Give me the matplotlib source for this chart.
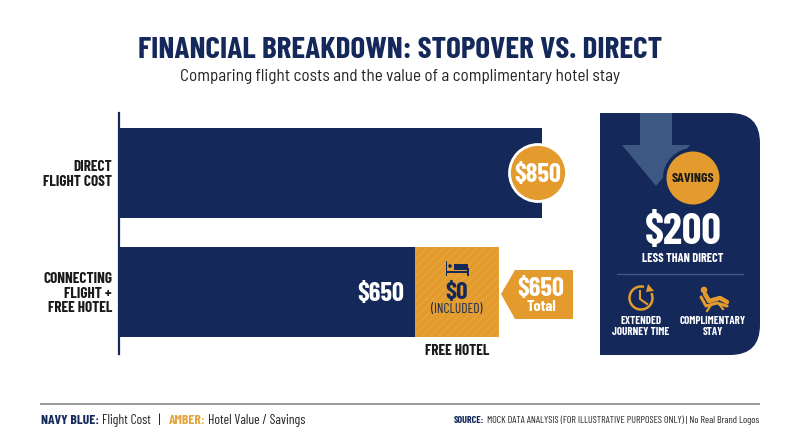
#
# Imports
#
import matplotlib
matplotlib.use("Agg")
import matplotlib.pyplot as plt
from matplotlib.patches import Arc, Circle, Polygon, PathPatch, Rectangle
from matplotlib.path import Path

#
# Data (bar lengths are as drawn in the picture, printed labels are separate)
#
categories = ["DIRECT\nFLIGHT COST", "CONNECTING\nFLIGHT +\nFREE HOTEL"]
flight_lengths = [850, 595]
hotel_lengths = [0, 168]
direct_label = "$850"
connecting_label = "$650"
hotel_label = "$0"
total_label = "$650"
savings_label = "$200"

NAVY = "#14295a"
AMBER = "#e39b2d"
ARROW = "#3e5884"
INK = "#1a1a1a"

FONT = ["Barlow Condensed", "Encode Sans Condensed", "Roboto", "DejaVu Sans"]
SUB_FONT = ["Barlow Semi Condensed", "Roboto", "DejaVu Sans"]
plt.rcParams["font.family"] = FONT
plt.rcParams["font.weight"] = "bold"

W, H = 800, 447
fig = plt.figure(figsize=(W / 100, H / 100), dpi=100, facecolor="white")

#
# Bars, on real axes
#
ax = fig.add_axes([119 / W, 1 - 354 / H, (542 - 119) / W, (354 - 113) / H])
ax.patch.set_alpha(0)
y = [0, 1]
ax.barh(y, flight_lengths, height=0.756, color=NAVY)
plt.rcParams["hatch.linewidth"] = 0.8
plt.rcParams["hatch.color"] = "#e8a63c"
ax.barh(y[1], hotel_lengths[1], left=flight_lengths[1], height=0.756, color=AMBER, hatch="////", linewidth=0)
ax.set_xlim(0, 850)
ax.set_ylim(1.521, -0.504)
ax.set_yticks(y, categories, ha="right", multialignment="right", fontsize=11, color=INK, linespacing=1.05)
ax.tick_params(axis="y", length=0, pad=5)
ax.set_xticks([])
for side in ["top", "right", "bottom"]:
    ax.spines[side].set_visible(False)
ax.spines["left"].set_color(NAVY)
ax.spines["left"].set_linewidth(1.6)

#
# Everything else, in picture pixels
#
ov = fig.add_axes([0, 0, 1, 1], zorder=5)
ov.set_xlim(0, W)
ov.set_ylim(H, 0)
ov.axis("off")


def label(x, y, s, size, color="white", ha="center", weight="bold", **kw):
    # va center sits a little high for caps, so nudge down with the size
    return ov.text(x, y + size * 0.09, s, fontsize=size, color=color, ha=ha, va="center", weight=weight, **kw)


def runs(x, y, parts, size):
    # lay out coloured pieces of text one after another
    rend = fig.canvas.get_renderer()
    for s, color, weight in parts:
        t = label(x, y, s, size, color=color, ha="left", weight=weight)
        box = t.get_window_extent(rend)
        x = box.x1 + 2.5


# Title
label(400, 48, "FINANCIAL BREAKDOWN: STOPOVER VS. DIRECT", 22.5, color=NAVY)
label(400, 75, "Comparing flight costs and the value of a complimentary hotel stay", 12.3, color="#222222",
      weight="normal", family=SUB_FONT)

# Bar values
ov.add_patch(Circle((538, 173), 28.5, fc=AMBER, ec="white", lw=2))
label(538, 173, direct_label, 19)
label(381, 292, connecting_label, 19)
label(457, 291, hotel_label, 18, color=NAVY)
label(457, 309, "(INCLUDED)", 9.6, color=NAVY, weight="normal")
label(457, 350, "FREE HOTEL", 11, color=INK)

# Bed icon
ov.add_patch(Rectangle((445.5, 261), 1.5, 15, fc=NAVY, ec="none"))
ov.add_patch(Rectangle((467, 268), 1.5, 8, fc=NAVY, ec="none"))
ov.add_patch(Rectangle((445.5, 271), 23, 1.5, fc=NAVY, ec="none"))
ov.add_patch(Circle((450, 266), 1.8, fc=NAVY, ec="none"))
ov.add_patch(Rectangle((454, 264), 13.5, 6, fc=NAVY, ec="none"))

# Total callout
ov.add_patch(Polygon([(501, 294), (515, 270), (573, 270), (573, 319), (515, 319)], fc=AMBER, ec="none"))
label(541, 287, total_label, 19)
label(541, 306, "Total", 11.5)

# Savings panel
r = 30
L, R, T, B = 600, 760, 113, 355
verts = [(L, T), (R - r, T), (R, T), (R, T + r), (R, B - r), (R, B), (R - r, B), (L, B), (L, T)]
codes = [Path.MOVETO, Path.LINETO, Path.CURVE3, Path.CURVE3, Path.LINETO, Path.CURVE3, Path.CURVE3, Path.LINETO,
         Path.CLOSEPOLY]
ov.add_patch(PathPatch(Path(verts, codes), fc=NAVY, ec="none"))
ov.add_patch(Polygon([(640, 113), (672, 113), (672, 145), (690, 145), (656, 186), (622, 145), (640, 145)],
                     fc=ARROW, ec="none"))
ov.add_patch(Circle((693, 178), 30, fc=NAVY, ec="none"))
ov.add_patch(Circle((693, 178), 26.5, fc=AMBER, ec="none"))
label(693, 178, "SAVINGS", 10, color=INK)
label(683, 230, savings_label, 31)
label(683, 258, "LESS THAN DIRECT", 8.9)
ov.plot([617, 743], [274, 274], color="#3e5884", lw=1)

# Clock icon
ov.add_patch(Arc((641, 298), 23, 23, theta1=-25, theta2=285, ec=AMBER, lw=1.8))
ov.plot([640, 640, 647], [291, 299, 304], color=AMBER, lw=1.5)
ov.add_patch(Polygon([(648, 284), (654, 291), (646, 292)], fc=AMBER, ec="none"))

# Recliner icon
ov.add_patch(Circle((704, 290), 3.3, fc=AMBER, ec="none"))
ov.plot([701, 706, 717, 727], [297, 306, 303, 306], color=AMBER, lw=2.2, solid_capstyle="round")
ov.plot([705, 709, 720, 727], [294, 301, 298, 302], color=AMBER, lw=3.2, solid_capstyle="round")
ov.plot([711, 707], [305, 311], color=AMBER, lw=1.6)
ov.plot([719, 723], [304, 309], color=AMBER, lw=1.6)

label(641, 320, "EXTENDED", 7.9)
label(641, 331, "JOURNEY TIME", 7.9)
label(713, 320, "COMPLIMENTARY", 7.9)
label(713, 331, "STAY", 7.9)

# Footer
ov.plot([41, 759], [404, 404], color="#999999", lw=1.4)
runs(41, 420, [("NAVY BLUE:", NAVY, "bold"), ("Flight Cost", "#222222", "normal"), ("  |  ", "#222222", "normal"),
               ("AMBER:", "#e5a53c", "bold"), ("Hotel Value / Savings", "#222222", "normal")], 9.8)
fig.canvas.draw()
src = label(759, 420, "MOCK DATA ANALYSIS (FOR ILLUSTRATIVE PURPOSES ONLY) | No Real Brand Logos", 7.2,
            color="#222222", ha="right", weight="normal")
box = src.get_window_extent(fig.canvas.get_renderer())
label(box.x0 - 2.5, 420, "SOURCE:", 7.2, color=NAVY, ha="right")

fig.savefig("out.png", dpi=100)
